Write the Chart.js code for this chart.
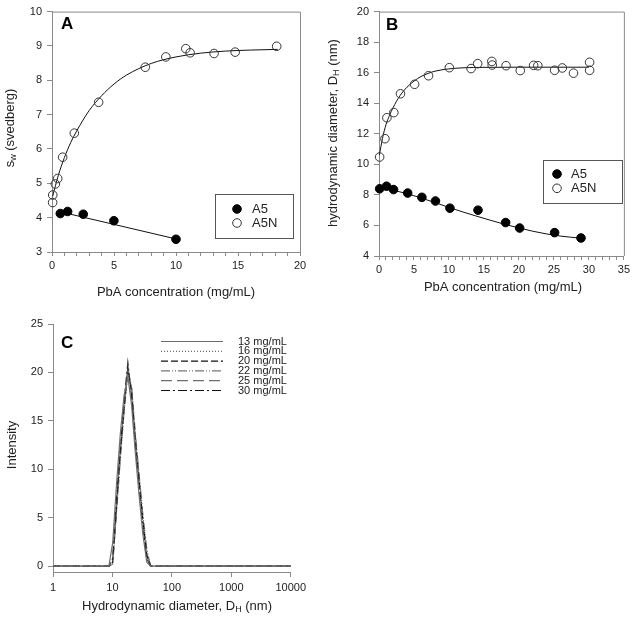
<!DOCTYPE html>
<html>
<head>
<meta charset="utf-8">
<script src="https://cdn.jsdelivr.net/npm/chart.js@4.4.0/dist/chart.umd.min.js"></script>
<style>
  html, body { margin: 0; padding: 0; background: #fff; }
  #wrap { position: relative; width: 633px; height: 619px; }
  .panel { position: absolute; }
</style>
</head>
<body>
<div id="wrap">
  <div class="panel" style="left:0;top:0"><canvas id="chartA" width="310" height="310"></canvas></div>
  <div class="panel" style="left:310px;top:0"><canvas id="chartB" width="323" height="310"></canvas></div>
  <div class="panel" style="left:0;top:310px"><canvas id="chartC" width="310" height="309"></canvas></div>
</div>
<script>
(function () {
  'use strict';

  // panel A: sedimentation coefficient vs concentration
  var a5X = [0.67, 1.26, 2.52, 4.99, 10.0];
  var a5Y = [4.12, 4.18, 4.10, 3.91, 3.37];
  var a5nX = [0.05, 0.06, 0.27, 0.46, 0.86, 1.8, 3.76, 7.52, 9.18, 10.79, 11.14, 13.07, 14.77, 18.12];
  var a5nY = [4.44, 4.66, 4.98, 5.14, 5.76, 6.46, 7.36, 8.38, 8.68, 8.92, 8.80, 8.78, 8.82, 8.99];
  var a5FitX = [0.67, 10.0];
  var a5FitY = [4.17, 3.38];
  var a5nFitX = [0.05, 0.5, 1, 1.5, 2, 3, 4, 5, 6, 8, 10, 12, 14, 16, 18.2];
  var a5nFitY = [4.62, 5.22, 5.75, 6.18, 6.53, 7.12, 7.55, 7.89, 8.15, 8.49, 8.68, 8.79, 8.85, 8.88, 8.90];

  // panel B: hydrodynamic diameter vs concentration
  var b5X = [0.09, 1.08, 2.08, 4.1, 6.13, 8.07, 10.14, 14.15, 18.1, 20.1, 25.1, 28.87];
  var b5Y = [8.40, 8.57, 8.35, 8.12, 7.84, 7.60, 7.13, 7.00, 6.19, 5.83, 5.53, 5.18];
  var b5nX = [0.09, 0.85, 1.13, 2.12, 3.07, 5.09, 7.08, 10.05, 13.16, 14.1, 16.13, 16.18, 18.16, 20.19, 22.1, 22.7, 25.1, 26.2, 27.8, 30.1, 30.1];
  var b5nY = [10.48, 11.68, 13.05, 13.39, 14.62, 15.24, 15.80, 16.33, 16.27, 16.59, 16.74, 16.50, 16.46, 16.14, 16.48, 16.46, 16.16, 16.31, 15.97, 16.68, 16.16];
  var b5FitX = [0.05, 2, 4, 6, 8, 10, 12, 14, 16, 18, 20, 22, 24, 26, 28.8];
  var b5FitY = [8.45, 8.30, 8.08, 7.80, 7.50, 7.18, 6.88, 6.60, 6.33, 6.07, 5.84, 5.62, 5.44, 5.30, 5.17];
  var b5nFitX = [0.05, 0.5, 1, 1.5, 2, 3, 4, 5, 6, 7, 8, 10, 12, 15, 20, 25, 30];
  var b5nFitY = [10.6, 11.7, 12.6, 13.2, 13.7, 14.5, 15.05, 15.45, 15.75, 15.95, 16.1, 16.25, 16.32, 16.35, 16.36, 16.36, 16.36];

  // panel C: intensity size distributions
  var sizeBins = [1, 8.72, 10.1, 11.7, 13.54, 15.69, 18.17, 21.04, 24.36, 28.21, 32.67, 37.84, 43.82, 10000];
  var concLabels = ['13 mg/mL', '16 mg/mL', '20 mg/mL', '22 mg/mL', '25 mg/mL', '30 mg/mL'];
  var int13 = [0, 0, 2.4, 8.4, 13.6, 17.6, 19.6, 16.6, 11.6, 7.2, 3.2, 0.4, 0, 0];
  var int16 = [0, 0, 0.2, 5.6, 11.0, 15.8, 20.0, 18.4, 13.4, 9.2, 5.0, 1.6, 0, 0];
  var int20 = [0, 0, 0.4, 6.0, 11.6, 16.2, 20.4, 18.0, 13.0, 8.8, 4.6, 1.2, 0, 0];
  var int22 = [0, 0, 0.2, 5.4, 11.0, 16.0, 20.2, 18.6, 13.6, 9.4, 5.2, 1.8, 0, 0];
  var int25 = [0, 0, 0.6, 6.4, 12.0, 16.6, 20.6, 17.8, 12.8, 8.6, 4.4, 1.0, 0, 0];
  var int30 = [0, 0, 0.8, 6.8, 12.2, 17.0, 21.0, 17.4, 12.4, 8.2, 4.0, 0.8, 0, 0];

  var FONT = '"Liberation Sans", Arial, sans-serif';
  var TXT = '#222';
  var AX = '#8a8a8a';

  function pts(xs, ys) {
    return xs.map(function (x, i) { return { x: x, y: ys[i] }; });
  }

  // text with subscripts, parts = [[text, isSub], ...]
  function drawParts(ctx, parts, x, y, rotate) {
    var big = '13px ' + FONT, small = '9px ' + FONT;
    ctx.save();
    ctx.translate(x, y);
    if (rotate) ctx.rotate(-Math.PI / 2);
    ctx.fillStyle = TXT;
    ctx.textBaseline = 'middle';
    ctx.textAlign = 'left';
    var w = 0;
    parts.forEach(function (p) {
      ctx.font = p[1] ? small : big;
      w += ctx.measureText(p[0]).width;
    });
    var cx = -w / 2;
    parts.forEach(function (p) {
      ctx.font = p[1] ? small : big;
      ctx.fillText(p[0], cx, p[1] ? 4 : 0);
      cx += ctx.measureText(p[0]).width;
    });
    ctx.restore();
  }

  var decor = {
    id: 'decor',
    afterDraw: function (chart, args, o) {
      var ctx = chart.ctx, ca = chart.chartArea;
      ctx.save();
      if (o.frame) {
        ctx.strokeStyle = AX;
        ctx.lineWidth = 1;
        ctx.beginPath();
        ctx.moveTo(ca.left, ca.top + 0.5);
        ctx.lineTo(ca.right + 0.5, ca.top + 0.5);
        ctx.lineTo(ca.right + 0.5, ca.bottom);
        ctx.stroke();
      }
      // panel letter
      ctx.fillStyle = '#000';
      ctx.font = 'bold 17px ' + FONT;
      ctx.textBaseline = 'middle';
      ctx.textAlign = 'left';
      ctx.fillText(o.letter, o.letterPos[0], o.letterPos[1]);
      // axis titles
      (o.titles || []).forEach(function (t) {
        drawParts(ctx, t.parts, t.x, t.y, t.rotate);
      });
      // legend
      var lg = o.legend;
      if (lg && lg.box) {
        ctx.strokeStyle = '#555';
        ctx.lineWidth = 1;
        ctx.strokeRect(lg.box[0] + 0.5, lg.box[1] + 0.5, lg.box[2], lg.box[3]);
      }
      if (lg) {
        lg.items.forEach(function (idx, i) {
          var ds = chart.data.datasets[idx];
          var y = lg.y0 + i * lg.dy;
          if (lg.kind === 'marker') {
            ctx.beginPath();
            ctx.arc(lg.mx, y, 4.3, 0, Math.PI * 2);
            ctx.fillStyle = ds.backgroundColor;
            ctx.fill();
            ctx.strokeStyle = ds.borderColor;
            ctx.lineWidth = 1;
            ctx.stroke();
          } else {
            ctx.beginPath();
            ctx.setLineDash(ds.borderDash || []);
            ctx.strokeStyle = ds.borderColor;
            ctx.lineWidth = ds.borderWidth;
            ctx.moveTo(lg.lx0, y);
            ctx.lineTo(lg.lx1, y);
            ctx.stroke();
            ctx.setLineDash([]);
          }
          ctx.fillStyle = TXT;
          ctx.font = lg.fontSize + 'px ' + FONT;
          ctx.textBaseline = 'middle';
          ctx.textAlign = 'left';
          ctx.fillText(ds.label, lg.tx, y);
        });
      }
      ctx.restore();
    }
  };

  function linAxis(min, max, step, every, fit, horizontal) {
    return {
      type: 'linear',
      min: min,
      max: max,
      ticks: {
        stepSize: step,
        autoSkip: false,
        maxRotation: 0,
        padding: horizontal ? 3 : 5,
        color: TXT,
        font: { family: FONT, size: 11 },
        callback: function (v) { return every && v % every !== 0 ? '' : v; }
      },
      grid: { drawOnChartArea: false, tickLength: horizontal ? 4 : 5, color: AX },
      border: { color: AX },
      afterFit: function (s) {
        if (horizontal) s.height = fit; else s.width = fit;
      }
    };
  }

  function markerSet(label, data, filled) {
    return {
      label: label,
      data: data,
      showLine: false,
      pointRadius: 4.3,
      pointHoverRadius: 4.3,
      borderWidth: 1,
      borderColor: filled ? '#000' : '#333',
      backgroundColor: filled ? '#000' : 'rgba(0,0,0,0)',
      clip: false,
      order: 1
    };
  }

  function fitSet(data) {
    return {
      label: 'fit',
      data: data,
      showLine: true,
      pointRadius: 0,
      borderColor: '#111',
      borderWidth: 1,
      cubicInterpolationMode: 'monotone',
      clip: false,
      order: 2
    };
  }

  var common = {
    responsive: false,
    animation: false,
    events: [],
    plugins: { legend: { display: false }, tooltip: { enabled: false } }
  };

  // Panel A
  new Chart(document.getElementById('chartA').getContext('2d'), {
    type: 'scatter',
    data: {
      datasets: [
        markerSet('A5', pts(a5X, a5Y), true),
        markerSet('A5N', pts(a5nX, a5nY), false),
        fitSet(pts(a5FitX, a5FitY)),
        fitSet(pts(a5nFitX, a5nFitY))
      ]
    },
    options: Object.assign({}, common, {
      layout: { padding: { left: 0, top: 4, right: 10, bottom: 0 } },
      scales: {
        x: linAxis(0, 20, 1, 5, 58, true),
        y: linAxis(3, 10, 1, 0, 52, false)
      },
      plugins: Object.assign({}, common.plugins, {
        decor: {
          frame: true,
          letter: 'A',
          letterPos: [61, 24],
          titles: [
            { parts: [['PbA concentration (mg/mL)', false]], x: 176, y: 292 },
            { parts: [['s', false], ['w', true], [' (svedberg)', false]], x: 10, y: 128, rotate: true }
          ],
          legend: { kind: 'marker', box: [215, 194, 78, 44], items: [0, 1], y0: 209, dy: 14, mx: 237, tx: 252, fontSize: 13 }
        }
      })
    }),
    plugins: [decor]
  });

  // Panel B
  new Chart(document.getElementById('chartB').getContext('2d'), {
    type: 'scatter',
    data: {
      datasets: [
        markerSet('A5', pts(b5X, b5Y), true),
        markerSet('A5N', pts(b5nX, b5nY), false),
        fitSet(pts(b5FitX, b5FitY)),
        fitSet(pts(b5nFitX, b5nFitY))
      ]
    },
    options: Object.assign({}, common, {
      layout: { padding: { left: 0, top: 7, right: 6, bottom: 0 } },
      scales: {
        x: linAxis(0, 35, 1, 5, 54, true),
        y: linAxis(4, 20, 2, 0, 69, false)
      },
      plugins: Object.assign({}, common.plugins, {
        decor: {
          frame: true,
          letter: 'B',
          letterPos: [76, 25],
          titles: [
            { parts: [['PbA concentration (mg/mL)', false]], x: 193, y: 287 },
            { parts: [['hydrodynamic diameter, D', false], ['H', true], [' (nm)', false]], x: 23, y: 133, rotate: true }
          ],
          legend: { kind: 'marker', box: [233, 160, 79, 43], items: [0, 1], y0: 174, dy: 14.3, mx: 247, tx: 261, fontSize: 13 }
        }
      })
    }),
    plugins: [decor]
  });

  // Panel C
  var styles = [
    { c: '#6e6e6e', d: [] },
    { c: '#6e6e6e', d: [1, 2] },
    { c: '#111', d: [7, 3] },
    { c: '#777', d: [9, 2, 1, 2, 1, 2] },
    { c: '#6e6e6e', d: [11, 5] },
    { c: '#111', d: [9, 3, 2, 3] }
  ];
  var series = [int13, int16, int20, int22, int25, int30];
  var dsC = series.map(function (vals, i) {
    return {
      label: concLabels[i],
      data: pts(sizeBins, vals),
      showLine: true,
      pointRadius: 0,
      borderColor: styles[i].c,
      borderDash: styles[i].d,
      borderWidth: 1.2,
      clip: false
    };
  });

  var yC = linAxis(-0.6, 25, 5, 0, 53, false);
  yC.afterBuildTicks = function (s) {
    s.ticks = [0, 5, 10, 15, 20, 25].map(function (v) { return { value: v }; });
  };

  new Chart(document.getElementById('chartC').getContext('2d'), {
    type: 'scatter',
    data: { datasets: dsC },
    options: Object.assign({}, common, {
      layout: { padding: { left: 0, top: 14, right: 9, bottom: 0 } },
      scales: {
        x: {
          type: 'logarithmic',
          min: 1,
          max: 10000,
          afterBuildTicks: function (s) {
            s.ticks = [1, 10, 100, 1000, 10000].map(function (v) { return { value: v }; });
          },
          ticks: {
            autoSkip: false,
            maxRotation: 0,
            padding: 4,
            color: TXT,
            font: { family: FONT, size: 11 },
            callback: function (v) { return String(v); }
          },
          grid: { drawOnChartArea: false, tickLength: 5, color: AX },
          border: { color: AX },
          afterFit: function (s) { s.height = 47; }
        },
        y: yC
      },
      plugins: Object.assign({}, common.plugins, {
        decor: {
          frame: false,
          letter: 'C',
          letterPos: [61, 33],
          titles: [
            { parts: [['Hydrodynamic diameter, D', false], ['H', true], [' (nm)', false]], x: 177, y: 296 },
            { parts: [['Intensity', false]], x: 12, y: 135, rotate: true }
          ],
          legend: { kind: 'line', items: [0, 1, 2, 3, 4, 5], y0: 31.5, dy: 9.8, lx0: 161, lx1: 223, tx: 238, fontSize: 11 }
        }
      })
    }),
    plugins: [decor]
  });
})();
</script>
</body>
</html>
